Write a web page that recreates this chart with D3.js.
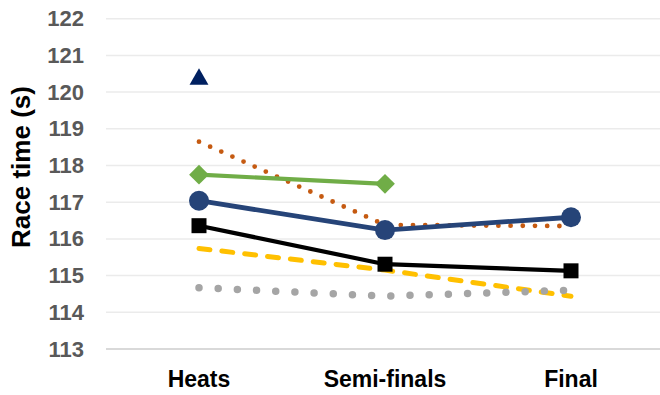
<!DOCTYPE html>
<html>
<head>
<meta charset="utf-8">
<script src="https://cdn.jsdelivr.net/npm/d3@7"></script>
<style>
  html, body { margin: 0; padding: 0; background: #fff; }
  svg { display: block; font-family: "Liberation Sans", Arial, sans-serif; }
</style>
</head>
<body>
<svg id="chart" width="660" height="395"></svg>
<script>
// Rounds of the race
const rounds = ["Heats", "Semi-finals", "Final"];

// Race times (s) per swimmer across rounds; null = did not race that round
const timesNavy   = [120.35, null, null];
const timesOrange = [118.65, 116.38, 116.35];
const timesGreen  = [117.75, 117.50, null];
const timesBlue   = [117.04, 116.24, 116.59];
const timesBlack  = [116.36, 115.31, 115.13];
const timesYellow = [115.74, 115.15, 114.44];
const timesGray   = [114.67, 114.44, 114.60];

const yTicks = [113, 114, 115, 116, 117, 118, 119, 120, 121, 122];

const svg = d3.select("#chart");

const x = d3.scaleBand().domain(rounds).range([106, 664]).paddingInner(0).paddingOuter(0);
const cx = r => x(r) + x.bandwidth() / 2;
const y = d3.scaleLinear().domain([113, 122]).range([349, 18.7]);

// Horizontal gridlines
svg.append("g")
  .selectAll("line")
  .data(yTicks.filter(t => t !== 113))
  .join("line")
  .attr("x1", 106).attr("x2", 660)
  .attr("y1", d => y(d)).attr("y2", d => y(d))
  .attr("stroke", "#ebebeb").attr("stroke-width", 1.5);

// Y axis (labels only)
const yAxis = d3.axisLeft(y).tickValues(yTicks).tickSize(0).tickPadding(0).tickFormat(d3.format("d"));
const gy = svg.append("g").attr("transform", "translate(84,0)").call(yAxis);
gy.select(".domain").remove();
gy.selectAll("text")
  .attr("fill", "#595959")
  .style("font-size", "22px")
  .style("font-weight", "bold")
  .style("font-family", "'Liberation Sans', Arial, sans-serif");

// Category axis baseline and labels
svg.append("line")
  .attr("x1", 106).attr("x2", 660)
  .attr("y1", y(113)).attr("y2", y(113))
  .attr("stroke", "#d9d9d9").attr("stroke-width", 2);

const xAxis = d3.axisBottom(x).tickSize(0).tickPadding(0);
const gx = svg.append("g").attr("transform", "translate(0,371)").call(xAxis);
gx.select(".domain").remove();
gx.selectAll("text")
  .attr("fill", "#000")
  .attr("dy", "0.71em")
  .style("font-size", "23px")
  .style("font-weight", "bold")
  .style("font-family", "'Liberation Sans', Arial, sans-serif");

// Y axis title
svg.append("text")
  .attr("transform", "translate(30,167) rotate(-90)")
  .attr("text-anchor", "middle")
  .style("font-size", "26px")
  .style("font-weight", "bold")
  .attr("fill", "#000")
  .text("Race time (s)");

function toPoints(vals) {
  return rounds.map((r, i) => ({ r, v: vals[i] }));
}

const line = d3.line()
  .defined(d => d.v != null)
  .x(d => cx(d.r))
  .y(d => y(d.v));

function drawLine(vals, color, width, dash) {
  const p = svg.append("path")
    .datum(toPoints(vals))
    .attr("d", line)
    .attr("fill", "none")
    .attr("stroke", color)
    .attr("stroke-width", width)
    .attr("stroke-linecap", "round")
    .attr("stroke-linejoin", "round");
  if (dash) p.attr("stroke-dasharray", dash);
}

function drawMarkers(vals, color, type, size, angle) {
  const sym = d3.symbol().type(type).size(size);
  svg.append("g")
    .selectAll("path")
    .data(toPoints(vals).filter(d => d.v != null))
    .join("path")
    .attr("transform", d => `translate(${cx(d.r)},${y(d.v)}) rotate(${angle || 0})`)
    .attr("d", sym)
    .attr("fill", color);
}

// Orange round-dot line
drawLine(timesOrange, "#c55a11", 4.8, "0 12.2");
// Yellow dashed line
drawLine(timesYellow, "#ffc000", 5, "11 12");
// Gray round-dot line
drawLine(timesGray, "#a5a5a5", 7.5, "0 19.2");
// Black line with squares
drawLine(timesBlack, "#000000", 4.2);
drawMarkers(timesBlack, "#000000", d3.symbolSquare, 15 * 15);
// Green line with diamonds
drawLine(timesGreen, "#70ad47", 4.2);
drawMarkers(timesGreen, "#70ad47", d3.symbolSquare, 14 * 14, 45);
// Blue line with circles
drawLine(timesBlue, "#264478", 4.8);
drawMarkers(timesBlue, "#264478", d3.symbolCircle, Math.PI * 10 * 10);
// Navy triangle (single result)
drawMarkers(timesNavy, "#002060", d3.symbolTriangle, 155);
</script>
</body>
</html>
